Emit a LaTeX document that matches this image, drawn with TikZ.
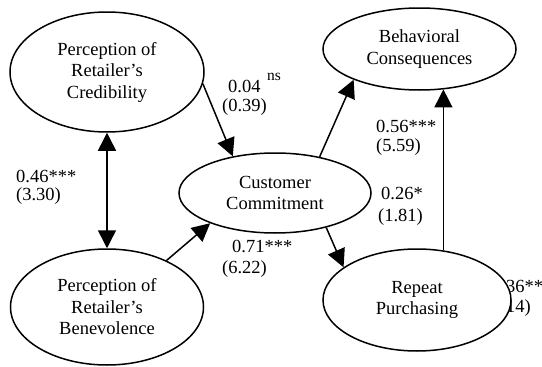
\documentclass[tikz,border=0pt]{standalone}
\usepackage{fontspec}
\setmainfont{Liberation Serif}
\usetikzlibrary{shapes.geometric,arrows.meta,calc}
\begin{document}
\begin{tikzpicture}[x=1pt,y=-1pt,
  latent/.style={ellipse, draw, fill=white, line width=1.5pt, inner sep=0pt, align=center,
    font=\fontsize{18.5}{21.5}\selectfont},
  lab/.style={anchor=base west, inner sep=0pt, font=\fontsize{18.5}{20}\selectfont},
  sup/.style={anchor=base west, inner sep=0pt, font=\fontsize{15.5}{15.5}\selectfont},
  pathline/.style={line width=1.5pt, -{Triangle[length=18pt,width=18pt]}},
  covline/.style={line width=1.5pt, {Triangle[length=18pt,width=18pt]}-{Triangle[length=18pt,width=18pt]}},
]
\useasboundingbox (0,0) rectangle (542,367);

% partially hidden label (drawn before the ellipse that covers it)
\node[lab] (l6a) at (492,292) {0.36**};
\node[lab] (l6b) at (486,312) {(3.14)};

\node[latent, minimum width=194pt, minimum height=120pt] (cred) at (107,72) {Perception of\\Retailer's\\Credibility};
\node[latent, minimum width=193pt, minimum height=116pt] (ben) at (107,307) {Perception of\\Retailer's\\Benevolence};
\node[latent, minimum width=193pt, minimum height=82pt] (beh) at (419.5,49) {Behavioral\\Consequences};
\node[latent, minimum width=192pt, minimum height=80pt] (comm) at (275,193) {Customer\\Commitment};
\node[latent, minimum width=188pt, minimum height=102pt] (rep) at (417,300) {Repeat\\Purchasing};

% labels
\node[lab] (l1a) at (228,92) {0.04};
\node[sup] (l1s) at (267,80) {ns};
\node[lab] (l1b) at (222,111) {(0.39)};
\node[lab] (l2a) at (16,182) {0.46***};
\node[lab] (l2b) at (16,200) {(3.30)};
\node[lab] (l3a) at (376,132) {0.56***};
\node[lab] (l3b) at (376,151) {(5.59)};
\node[lab] (l4a) at (381,199) {0.26*};
\node[lab] (l4b) at (378,221) {(1.81)};
\node[lab] (l5a) at (232,252) {0.71***};
\node[lab] (l5b) at (222,273) {(6.22)};

% connectors
\draw[covline] (cred) -- (ben);
\draw[pathline] (cred.-7) -- (comm.139);
\draw[pathline] (ben.38) -- (comm.-155);
\draw[pathline] (comm.39) -- (beh.205);
\draw[pathline] (comm.-34.5) -- (rep.156);
\draw[pathline] (rep.62) -- (rep.62 |- beh.-59);
\end{tikzpicture}
\end{document}
